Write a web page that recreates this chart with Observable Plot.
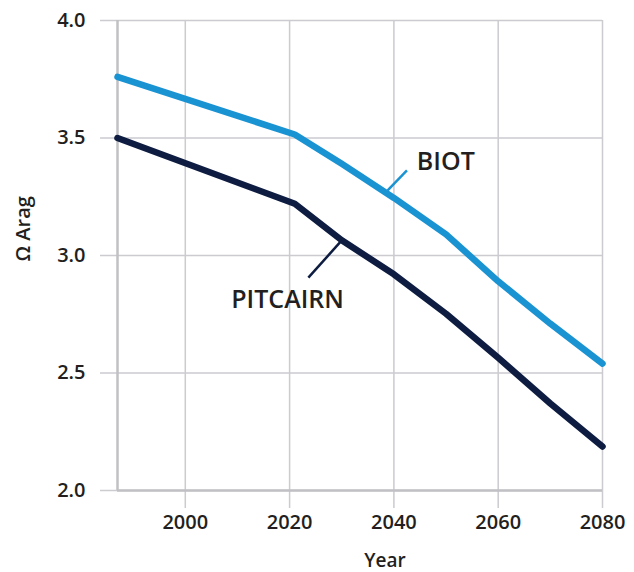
<!DOCTYPE html>
<html>
<head>
<meta charset="utf-8">
<script src="https://cdn.jsdelivr.net/npm/d3@7"></script>
<script src="https://cdn.jsdelivr.net/npm/@observablehq/plot@0.6"></script>
<style>
  html, body { margin: 0; padding: 0; background: #fff; }
  #chart { width: 634px; height: 572px; }
</style>
</head>
<body>
<div id="chart"></div>
<script>
// Data
const years = [1987, 2021, 2030, 2040, 2050, 2060, 2070, 2080];
const biot = [3.76, 3.515, 3.39, 3.245, 3.09, 2.89, 2.71, 2.54];
const pitcairn = [3.50, 3.22, 3.065, 2.92, 2.752, 2.565, 2.37, 2.187];

const seriesNames = ["BIOT", "PITCAIRN"];
const seriesColors = ["#1a93d3", "#0d1c40"];

const xTicks = [2000, 2020, 2040, 2060, 2080];
const yTicks = [2.0, 2.5, 3.0, 3.5, 4.0];

const xLabel = "Year";
const yLabel = "Ω Arag";

// Callout annotations (label, leader start/end, text position)
const calloutLabels = ["BIOT", "PITCAIRN"];
const leaderX1 = [2038.8, 2030.0];
const leaderY1 = [3.277, 3.064];
const leaderX2 = [2042.5, 2023.6];
const leaderY2 = [3.362, 2.906];
const labelX = [2044.4, 2019.6];
const labelY = [3.40, 2.81];

const rows = [];
years.forEach((yr, i) => {
  rows.push({year: yr, value: biot[i], series: "BIOT"});
  rows.push({year: yr, value: pitcairn[i], series: "PITCAIRN"});
});
const callouts = calloutLabels.map((name, i) => ({
  name, x1: leaderX1[i], y1: leaderY1[i], x2: leaderX2[i], y2: leaderY2[i],
  lx: labelX[i], ly: labelY[i]
}));

const gridColor = "#cbcbd0";
const axisColor = "#c0c0c5";
const textColor = "#231f20";
const labelFont = 25;

const chart = Plot.plot({
  width: 634,
  height: 572,
  marginLeft: 117,
  marginRight: 32,
  marginTop: 20,
  marginBottom: 82,
  style: {fontFamily: "'Open Sans', sans-serif", fontSize: "20px", fontWeight: 600, color: textColor, background: "#fff"},
  x: {domain: [years[0], 2080]},
  y: {domain: [2, 4]},
  color: {domain: seriesNames, range: seriesColors},
  marks: [
    Plot.gridX(xTicks, {stroke: gridColor, strokeOpacity: 1, strokeWidth: 1.5}),
    Plot.gridY(yTicks, {stroke: gridColor, strokeOpacity: 1, strokeWidth: 1.5}),
    Plot.axisX(xTicks, {tickFormat: "d", tickSize: 18, tickPadding: 6, stroke: gridColor, strokeWidth: 1.5, label: null, fill: textColor}),
    Plot.axisY(yTicks, {tickFormat: ".1f", tickSize: 17, tickPadding: 15, stroke: gridColor, strokeWidth: 1.5, label: null, fill: textColor}),
    Plot.ruleX([years[0]], {stroke: axisColor, strokeWidth: 2.5}),
    Plot.ruleY([2], {stroke: axisColor, strokeWidth: 2.5}),
    Plot.line(rows, {x: "year", y: "value", stroke: "series", z: "series", strokeWidth: 6.5, strokeLinecap: "round", strokeLinejoin: "round"}),
    Plot.link(callouts, {x1: "x1", y1: "y1", x2: "x2", y2: "y2", stroke: "name", strokeWidth: 2.5}),
    Plot.text(callouts.filter(d => d.name === "BIOT"), {x: "lx", y: "ly", text: "name", textAnchor: "start", fontSize: labelFont, fontWeight: 600, fill: textColor, lineAnchor: "middle"}),
    Plot.text(callouts.filter(d => d.name === "PITCAIRN"), {x: "lx", y: "ly", text: "name", textAnchor: "middle", fontSize: labelFont, fontWeight: 600, fill: textColor, lineAnchor: "middle"}),
    Plot.text([xLabel], {frameAnchor: "bottom", dx: 25, dy: 63, lineAnchor: "top", fontSize: 19, fontWeight: 600, fill: textColor}),
    Plot.text([yLabel], {frameAnchor: "left", rotate: -90, dx: -94, dy: 6, fontSize: 20, fontWeight: 600, fill: textColor})
  ]
});
document.getElementById("chart").appendChild(chart);
</script>
</body>
</html>
